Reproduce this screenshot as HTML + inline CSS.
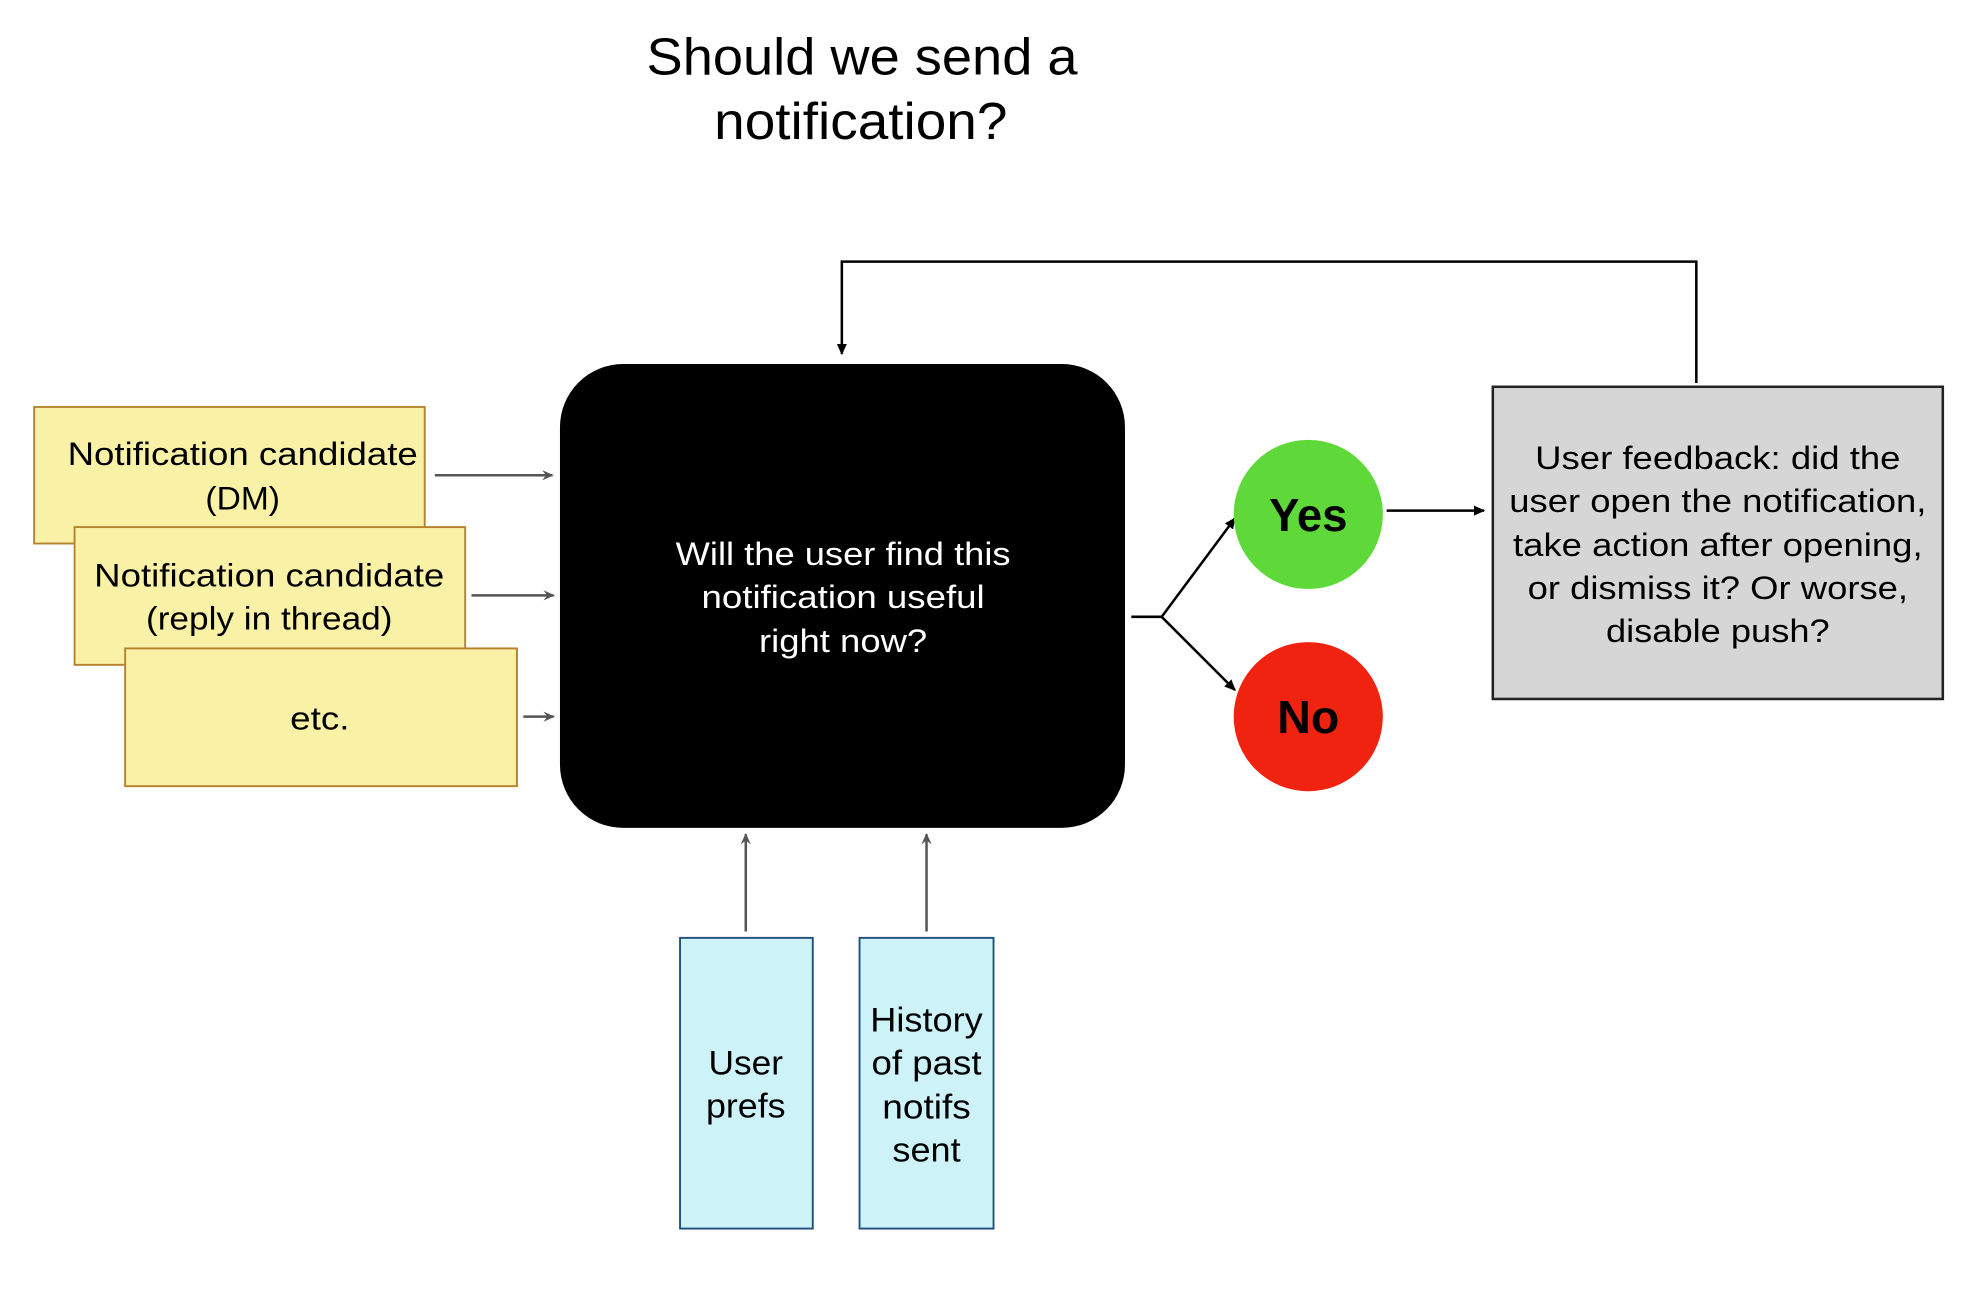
<!DOCTYPE html>
<html><head><meta charset="utf-8"><style>html,body{margin:0;padding:0;background:#fff}svg{display:block}</style></head>
<body>
<svg width="1982" height="1312" viewBox="0 0 1568 1038" preserveAspectRatio="none" xmlns="http://www.w3.org/2000/svg" font-family="'Liberation Sans', Arial, sans-serif">
<defs>
<marker id="ab" markerWidth="10" markerHeight="10" refX="8" refY="5" orient="auto" markerUnits="userSpaceOnUse"><path d="M0,1 L9,5 L0,9 Z" fill="#000"/></marker>
<marker id="ag" markerWidth="10" markerHeight="10" refX="8" refY="5" orient="auto" markerUnits="userSpaceOnUse"><path d="M0,1 L9,5 L0,9 L3,5 Z" fill="#555"/></marker>
</defs>
<rect width="1568" height="1038" fill="#fff"/>
<g font-size="41" text-anchor="middle" fill="#000" lengthAdjust="spacingAndGlyphs">
<text x="682" y="59" textLength="341" lengthAdjust="spacingAndGlyphs">Should we send a</text>
<text x="681" y="110" textLength="232" lengthAdjust="spacingAndGlyphs">notification?</text>
</g>
<path d="M1342,303 V207 H666 V280" fill="none" stroke="#000" stroke-width="2" marker-end="url(#ab)"/>
<rect x="443" y="288" width="447" height="367" rx="50" fill="#000"/>
<g font-size="26" text-anchor="middle" fill="#fff">
<text x="667" y="447" textLength="265" lengthAdjust="spacingAndGlyphs">Will the user find this</text>
<text x="667" y="481" textLength="224" lengthAdjust="spacingAndGlyphs">notification useful</text>
<text x="667" y="516" textLength="133" lengthAdjust="spacingAndGlyphs">right now?</text>
</g>
<g fill="#f9f1a5" stroke="#b5822f" stroke-width="1.5">
<rect x="27" y="322" width="309" height="108"/>
<rect x="59" y="417" width="309" height="109"/>
<rect x="99" y="513" width="310" height="109"/>
</g>
<g font-size="26" text-anchor="middle" fill="#000">
<text x="192" y="368" textLength="277" lengthAdjust="spacingAndGlyphs">Notification candidate</text>
<text x="192" y="403" textLength="59" lengthAdjust="spacingAndGlyphs">(DM)</text>
<text x="213" y="464" textLength="277" lengthAdjust="spacingAndGlyphs">Notification candidate</text>
<text x="213" y="498" textLength="195" lengthAdjust="spacingAndGlyphs">(reply in thread)</text>
<text x="253" y="577" textLength="47" lengthAdjust="spacingAndGlyphs">etc.</text>
</g>
<g stroke="#555" stroke-width="2" fill="none" marker-end="url(#ag)">
<line x1="344" y1="376" x2="437" y2="376"/>
<line x1="373" y1="471" x2="438" y2="471"/>
<line x1="414" y1="567" x2="438" y2="567"/>
<line x1="590" y1="737" x2="590" y2="660"/>
<line x1="733" y1="737" x2="733" y2="660"/>
</g>
<g fill="#cdf3f9" stroke="#1f4f7a" stroke-width="1.5">
<rect x="538" y="742" width="105" height="230"/>
<rect x="680" y="742" width="106" height="230"/>
</g>
<g font-size="27" text-anchor="middle" fill="#000">
<text x="590" y="850" textLength="59" lengthAdjust="spacingAndGlyphs">User</text>
<text x="590" y="884" textLength="63" lengthAdjust="spacingAndGlyphs">prefs</text>
<text x="733" y="816" textLength="89" lengthAdjust="spacingAndGlyphs">History</text>
<text x="733" y="850" textLength="87" lengthAdjust="spacingAndGlyphs">of past</text>
<text x="733" y="885" textLength="70" lengthAdjust="spacingAndGlyphs">notifs</text>
<text x="733" y="919" textLength="54" lengthAdjust="spacingAndGlyphs">sent</text>
</g>
<path d="M895,488 H919" stroke="#000" stroke-width="2"/>
<path d="M919,488 L977,410" stroke="#000" stroke-width="2" marker-end="url(#ab)"/>
<path d="M919,488 L977,546" stroke="#000" stroke-width="2" marker-end="url(#ab)"/>
<circle cx="1035" cy="407" r="59" fill="#5fd93a"/>
<circle cx="1035" cy="567" r="59" fill="#ef230f"/>
<g font-size="37" font-weight="bold" text-anchor="middle" fill="#000">
<text x="1035" y="420" textLength="62" lengthAdjust="spacingAndGlyphs">Yes</text>
<text x="1035" y="580" textLength="49" lengthAdjust="spacingAndGlyphs">No</text>
</g>
<line x1="1097" y1="404" x2="1174" y2="404" stroke="#000" stroke-width="2" marker-end="url(#ab)"/>
<rect x="1181" y="306" width="356" height="247" fill="#d6d6d6" stroke="#222" stroke-width="2"/>
<g font-size="26" text-anchor="middle" fill="#000">
<text x="1359" y="371" textLength="289" lengthAdjust="spacingAndGlyphs">User feedback: did the</text>
<text x="1359" y="405" textLength="330" lengthAdjust="spacingAndGlyphs">user open the notification,</text>
<text x="1359" y="440" textLength="324" lengthAdjust="spacingAndGlyphs">take action after opening,</text>
<text x="1359" y="474" textLength="301" lengthAdjust="spacingAndGlyphs">or dismiss it? Or worse,</text>
<text x="1359" y="508" textLength="177" lengthAdjust="spacingAndGlyphs">disable push?</text>
</g>
</svg>
</body></html>
